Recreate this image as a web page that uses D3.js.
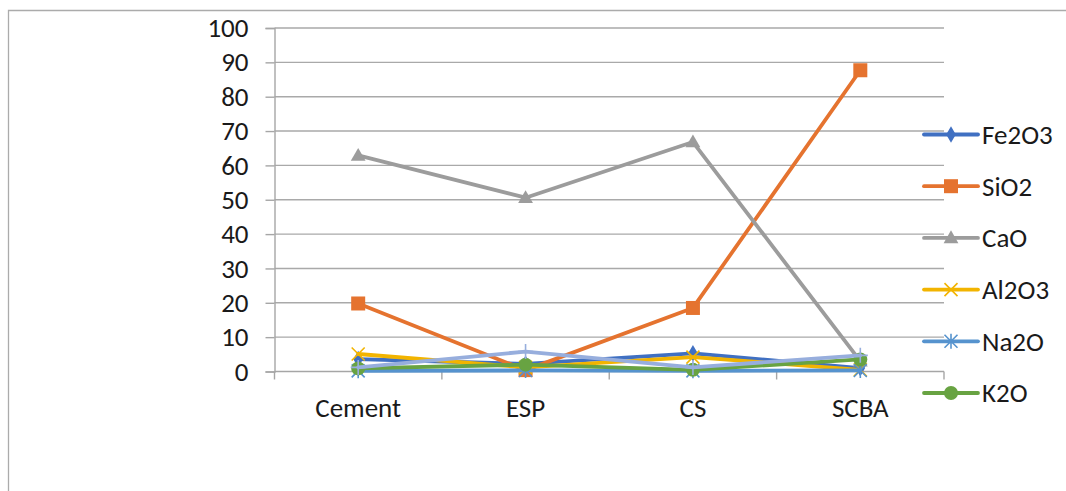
<!DOCTYPE html>
<html>
<head>
<meta charset="utf-8">
<script src="https://cdn.jsdelivr.net/npm/d3@7"></script>
<style>
  html, body { margin: 0; padding: 0; background: #fff; }
  svg { display: block; }
  text { font-family: Carlito, Calibri, Lato, "Open Sans", sans-serif; fill: #1a1a1a; }
</style>
</head>
<body>
<svg id="chart" width="1066" height="491"></svg>
<script>
// Oxide composition (%) of each material
const categories = ["Cement", "ESP", "CS", "SCBA"];
const fe2o3 = [3.6, 2.2, 5.3, 1.0];
const sio2  = [19.8, 0.4, 18.5, 87.7];
const cao   = [62.9, 50.6, 66.8, 3.0];
const al2o3 = [5.1, 1.2, 4.2, 0.5];
const na2o  = [0.2, 0.3, 0.2, 0.3];
const k2o   = [0.9, 2.0, 0.5, 3.5];
const mgo   = [1.2, 5.8, 1.2, 4.7];
const yTicks = [0, 10, 20, 30, 40, 50, 60, 70, 80, 90, 100];

const series = [
  { name: "Fe2O3", values: fe2o3, color: "#4070C2", marker: "diamond", legend: true },
  { name: "SiO2",  values: sio2,  color: "#E5732F", marker: "square",  legend: true },
  { name: "CaO",   values: cao,   color: "#9C9C9C", marker: "triangle", legend: true },
  { name: "Al2O3", values: al2o3, color: "#F2B400", marker: "x",       legend: true },
  { name: "Na2O",  values: na2o,  color: "#5693CE", marker: "star",    legend: true },
  { name: "K2O",   values: k2o,   color: "#68A342", marker: "circle",  legend: true },
  { name: "MgO",   values: mgo,   color: "#97AEDD", marker: "plus",    legend: false }
];

const FONT = "Carlito, Calibri, Lato, 'Open Sans', sans-serif";
const FS = 27;

const svg = d3.select("#chart");

// outer frame (top and left edges)
svg.append("path")
  .attr("d", "M8.5,491 V10.5 H1066")
  .attr("fill", "none").attr("stroke", "#ababab").attr("stroke-width", 1.3);

const plot = { left: 274.5, right: 944, top: 28, bottom: 371.5 };

const xBand = d3.scaleBand().domain(categories).range([plot.left, plot.right]).paddingInner(0).paddingOuter(0);
const x = d => xBand(d) + xBand.bandwidth() / 2;
const y = d3.scaleLinear().domain([0, 100]).range([plot.bottom, plot.top]);

// horizontal gridlines
svg.append("g").selectAll("line").data(yTicks.filter(t => t > 0)).join("line")
  .attr("x1", plot.left).attr("x2", plot.right)
  .attr("y1", d => y(d)).attr("y2", d => y(d))
  .attr("stroke", "#a9a9a9").attr("stroke-width", 1.4);

// y axis
const yAxis = d3.axisLeft(y).tickValues(yTicks).tickSize(9).tickPadding(17).tickFormat(d3.format("d"));
const gy = svg.append("g").attr("transform", `translate(${plot.left},0)`).call(yAxis);
gy.select(".domain").attr("stroke", "#a6a6a6").attr("stroke-width", 1.4);
gy.selectAll(".tick line").attr("stroke", "#a6a6a6").attr("stroke-width", 1.4);
gy.selectAll(".tick text").attr("font-size", FS).attr("fill", "#1a1a1a").style("font-family", FONT);

// x axis: category labels centred in bands, ticks on band boundaries
const xAxis = d3.axisBottom(xBand).tickSize(0).tickPadding(26);
const gx = svg.append("g").attr("transform", `translate(0,${plot.bottom})`).call(xAxis);
gx.select(".domain").remove();
gx.selectAll(".tick text").attr("font-size", FS).attr("fill", "#1a1a1a").style("font-family", FONT);
svg.append("line").attr("x1", plot.left).attr("x2", plot.right)
  .attr("y1", plot.bottom).attr("y2", plot.bottom)
  .attr("stroke", "#a6a6a6").attr("stroke-width", 1.4);
const bounds = categories.map(c => xBand(c)).concat([xBand(categories[categories.length - 1]) + xBand.bandwidth()]);
svg.append("g").selectAll("line").data(bounds).join("line")
  .attr("x1", d => d).attr("x2", d => d)
  .attr("y1", plot.bottom).attr("y2", plot.bottom + 8)
  .attr("stroke", "#a6a6a6").attr("stroke-width", 1.4);

// marker drawing
function drawMarker(g, type, cx, cy, color) {
  switch (type) {
    case "diamond":
      g.append("path").attr("d", d3.symbol(d3.symbolDiamond, 80)())
        .attr("transform", `translate(${cx},${cy})`).attr("fill", color); break;
    case "square":
      g.append("rect").attr("x", cx - 7).attr("y", cy - 7)
        .attr("width", 14).attr("height", 14).attr("fill", color); break;
    case "triangle":
      g.append("path").attr("d", d3.symbol(d3.symbolTriangle, 95)())
        .attr("transform", `translate(${cx},${cy + 1})`).attr("fill", color); break;
    case "circle":
      g.append("circle").attr("cx", cx).attr("cy", cy).attr("r", 7).attr("fill", color); break;
    case "x": {
      const r = 6.5;
      g.append("path").attr("d", `M${cx - r},${cy - r}L${cx + r},${cy + r}M${cx - r},${cy + r}L${cx + r},${cy - r}`)
        .attr("stroke", color).attr("stroke-width", 1.6).attr("fill", "none"); break;
    }
    case "star": {
      const r = 6.5;
      g.append("path").attr("d", `M${cx - r},${cy - r}L${cx + r},${cy + r}M${cx - r},${cy + r}L${cx + r},${cy - r}M${cx},${cy - r - 1}L${cx},${cy + r + 1}`)
        .attr("stroke", color).attr("stroke-width", 1.6).attr("fill", "none"); break;
    }
    case "plus": {
      const r = 7.5;
      g.append("path").attr("d", `M${cx - r},${cy}L${cx + r},${cy}M${cx},${cy - r}L${cx},${cy + r}`)
        .attr("stroke", color).attr("stroke-width", 1.6).attr("fill", "none"); break;
    }
  }
}

const line = d3.line().x((d, i) => x(categories[i])).y(d => y(d));

series.forEach(s => {
  const g = svg.append("g");
  g.append("path").datum(s.values).attr("d", line)
    .attr("fill", "none").attr("stroke", s.color).attr("stroke-width", 3.8)
    .attr("stroke-linejoin", "round").attr("stroke-linecap", "round");
  s.values.forEach((v, i) => drawMarker(g, s.marker, x(categories[i]), y(v), s.color));
});

// legend
const legendItems = series.filter(s => s.legend);
const lg = svg.append("g");
legendItems.forEach((s, i) => {
  const cy = 134.5 + i * 51.7;
  lg.append("line").attr("x1", 924).attr("x2", 978).attr("y1", cy).attr("y2", cy)
    .attr("stroke", s.color).attr("stroke-width", 3.8).attr("stroke-linecap", "round");
  drawMarker(lg, s.marker, 951, cy, s.color);
  lg.append("text").attr("x", 982).attr("y", cy).attr("dy", "0.35em")
    .attr("font-size", FS).text(s.name);
});
</script>
</body>
</html>
